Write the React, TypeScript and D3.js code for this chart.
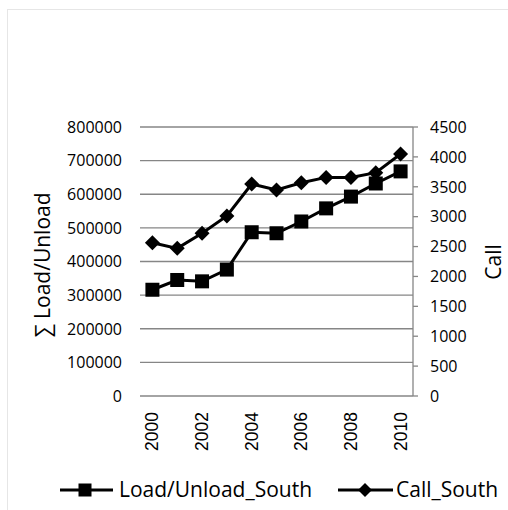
import React from "react";
import * as d3 from "d3";

const years = ["2000","2001","2002","2003","2004","2005","2006","2007","2008","2009","2010"];
const loadSouth = [316000, 345000, 341000, 376000, 487000, 484000, 519000, 558000, 593000, 632000, 668000];
const callSouth = [2565, 2470, 2722, 3011, 3546, 3446, 3568, 3657, 3657, 3736, 4048];
const leftTicks = [0, 100000, 200000, 300000, 400000, 500000, 600000, 700000, 800000];
const rightTicks = [0, 500, 1000, 1500, 2000, 2500, 3000, 3500, 4000, 4500];
const xTickLabels = ["2000","2002","2004","2006","2008","2010"];
const seriesNames = ["Load/Unload_South", "Call_South"];
const leftTitle = "∑ Load/Unload";
const rightTitle = "Call";

const W = 508, H = 510;
const PL = 140, PR = 413, PT = 127, PB = 396;
const FONT = "'Open Sans', sans-serif";

export default function App() {
  const x = d3.scalePoint<string>().domain(years).range([PL, PR]).padding(0.5);
  const yL = d3.scaleLinear().domain([0, 800000]).range([PB, PT]);
  const yR = d3.scaleLinear().domain([0, 4500]).range([PB, PT]);
  const line = d3.line<[number, number]>().x(d => d[0]).y(d => d[1]);
  const loadPts: [number, number][] = years.map((yr, i) => [x(yr)!, yL(loadSouth[i])]);
  const callPts: [number, number][] = years.map((yr, i) => [x(yr)!, yR(callSouth[i])]);
  const sq = 14, dm = 7.5;
  const diamond = (cx: number, cy: number, r: number) => `M${cx},${cy - r}L${cx + r},${cy}L${cx},${cy + r}L${cx - r},${cy}Z`;

  return (
    <svg width={W} height={H} style={{ position: "absolute", left: 0, top: 0, background: "#fff" }}>
      <rect x={7.5} y={9.5} width={520} height={520} fill="#fff" stroke="#e6e6e6" />
      {leftTicks.map(t => (
        <g key={"g" + t}>
          <line x1={PL} x2={PR} y1={yL(t)} y2={yL(t)} stroke="#868686" strokeWidth={1.3} />
          <text x={122} y={yL(t)} dy="0.36em" textAnchor="end" fontFamily={FONT} fontSize={16} fill="#000">{t}</text>
        </g>
      ))}
      <line x1={PR} x2={PR} y1={PT} y2={PB} stroke="#868686" strokeWidth={1.3} />
      {rightTicks.map(t => (
        <g key={"r" + t}>
          <line x1={PR} x2={PR + 5} y1={yR(t)} y2={yR(t)} stroke="#868686" strokeWidth={1.3} />
          <text x={430} y={yR(t)} dy="0.36em" textAnchor="start" fontFamily={FONT} fontSize={16} fill="#000">{t}</text>
        </g>
      ))}
      {xTickLabels.map(lab => (
        <text key={lab} transform={`translate(${x(lab)! + 6},412) rotate(-90)`} textAnchor="end" fontFamily="'Liberation Sans', Arial, sans-serif" fontSize={17.5} fill="#000">{lab}</text>
      ))}
      <text transform={`translate(50,265) rotate(-90)`} textAnchor="middle" fontFamily={FONT} fontSize={21} fill="#000">{leftTitle}</text>
      <text transform={`translate(501,262) rotate(-90)`} textAnchor="middle" fontFamily={FONT} fontSize={21} fill="#000">{rightTitle}</text>

      <path d={line(loadPts)!} fill="none" stroke="#000" strokeWidth={3} />
      {loadPts.map((p, i) => (
        <rect key={"s" + i} x={p[0] - sq / 2} y={p[1] - sq / 2} width={sq} height={sq} fill="#000" />
      ))}
      <path d={line(callPts)!} fill="none" stroke="#000" strokeWidth={3} />
      {callPts.map((p, i) => (
        <path key={"d" + i} d={diamond(p[0], p[1], dm)} fill="#000" />
      ))}

      <g>
        <line x1={60} x2={113} y1={490} y2={490} stroke="#000" strokeWidth={3} />
        <rect x={85 - 6.5} y={490 - 6.5} width={13} height={13} fill="#000" />
        <text x={119} y={497} fontFamily={FONT} fontSize={21} fill="#000">{seriesNames[0]}</text>
        <line x1={338} x2={393} y1={490} y2={490} stroke="#000" strokeWidth={3} />
        <path d={diamond(365, 490, 7)} fill="#000" />
        <text x={396} y={497} fontFamily={FONT} fontSize={21} fill="#000">{seriesNames[1]}</text>
      </g>
    </svg>
  );
}
